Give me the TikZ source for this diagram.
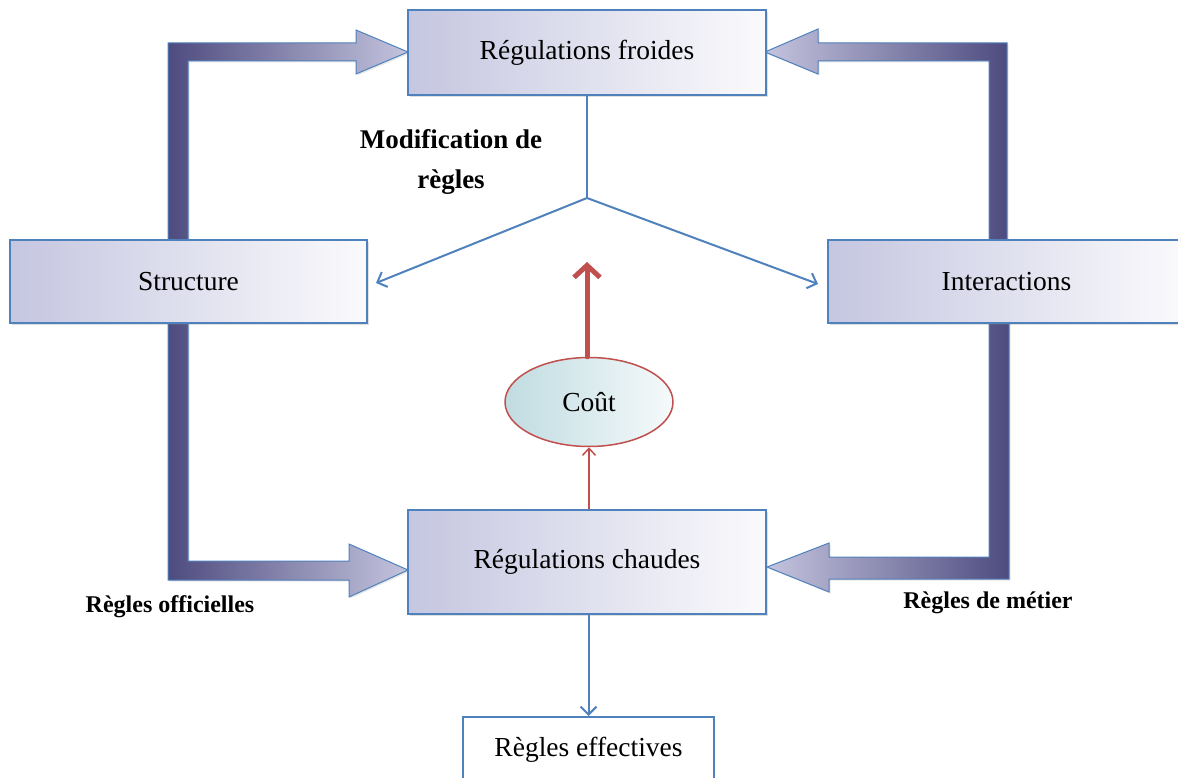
\documentclass[tikz,border=0pt]{standalone}
\usepackage{fontspec}
\setmainfont{Liberation Serif}
\usetikzlibrary{arrows.meta,shapes.geometric,shadows}
\definecolor{bblue}{RGB}{79,129,189}
\definecolor{darkarrow}{RGB}{78,75,127}
\definecolor{midarrow}{RGB}{120,117,165}
\definecolor{lightarrow}{RGB}{196,196,222}
\definecolor{lav}{RGB}{197,198,224}
\definecolor{redc}{RGB}{192,80,77}
\definecolor{cyn}{RGB}{192,220,225}
\tikzset{
  regbox/.style={draw=bblue, line width=1.5pt, left color=lav, right color=white!92!lav,
    drop shadow={opacity=0.25,shadow xshift=2pt,shadow yshift=-2pt},
    font=\fontsize{27.5}{32}\selectfont, inner sep=0pt},
  plainbox/.style={draw=bblue, line width=2pt, fill=white, font=\fontsize{27.5}{32}\selectfont, inner sep=0pt},
  blockL/.style={draw=bblue, line width=1pt, left color=darkarrow, middle color=midarrow, right color=lightarrow,
    drop shadow={opacity=0.2,shadow xshift=1.5pt,shadow yshift=-1.5pt}},
  blockR/.style={draw=bblue, line width=1pt, right color=darkarrow, middle color=midarrow, left color=lightarrow,
    drop shadow={opacity=0.2,shadow xshift=1.5pt,shadow yshift=-1.5pt}},
  thinblue/.style={draw=bblue, line width=2pt, -{Straight Barb[length=8pt,width=16pt]}},
  lbl/.style={font=\bfseries\fontsize{27}{40}\selectfont, align=center, inner sep=0pt},
  lblsmall/.style={font=\bfseries\fontsize{24}{28}\selectfont, inner sep=0pt},
}
\begin{document}
\begin{tikzpicture}[x=1pt,y=-1pt]
\useasboundingbox (0,0) rectangle (1178,778);
\clip (0,0) rectangle (1178,778);

% big block arrows
\path[blockL] (168,250) -- (168,43) -- (356,43) -- (356,30) -- (408,52) -- (356,74) -- (356,61) -- (188,61) -- (188,250) -- cycle;
\path[blockL] (168,315) -- (168,580) -- (349,580) -- (349,597) -- (408,570) -- (349,544) -- (349,561) -- (188,561) -- (188,315) -- cycle;
\path[blockR] (1007,250) -- (1007,43) -- (818,43) -- (818,29) -- (765,52) -- (818,74) -- (818,61) -- (989,61) -- (989,250) -- cycle;
\path[blockR] (1009,315) -- (1009,579) -- (829,579) -- (829,592) -- (767,567) -- (829,543) -- (829,557) -- (989,557) -- (989,315) -- cycle;

% boxes
\node[regbox, minimum width=358pt, minimum height=85pt] (froides) at (587,52.5) {Régulations froides};
\node[regbox, minimum width=357pt, minimum height=83pt] (structure) at (188.5,281.5) {Structure};
\node[regbox, minimum width=357pt, minimum height=83pt] (interactions) at (1006.5,281.5) {Interactions};
\node[regbox, minimum width=358pt, minimum height=104pt] (chaudes) at (587,562) {Régulations chaudes};
\node[plainbox, minimum width=251pt, minimum height=66pt] (effectives) at (588.5,750) {Règles effectives};

% cost ellipse
\node[ellipse, draw=redc, line width=1.5pt, left color=cyn, right color=white!85!cyn,
  minimum width=168pt, minimum height=89pt, inner sep=0pt,
  font=\fontsize{27.5}{32}\selectfont] (cout) at (589,402) {Coût};

% fork connectors
\coordinate (fork) at (587,198);
\coordinate (endL) at (376,283);
\coordinate (endR) at (818,284);
\draw[bblue, line width=2pt] (froides.south -| fork) -- (fork);
\draw[thinblue] (fork) -- (endL);
\draw[thinblue] (fork) -- (endR);

% red arrows
\coordinate (redtip) at (587,262);
\draw[redc, line width=5pt, line cap=round, -{Straight Barb[length=12pt,width=26pt]}] (cout.north -| redtip) -- (redtip);
\draw[redc, line width=1.5pt, -{Straight Barb[length=7pt,width=13pt]}] (chaudes.north -| cout) -- (cout.south);

% bottom arrow
\draw[thinblue] (chaudes.south -| effectives) -- (effectives.north);

% labels
\node[lbl] (modif) at (451,162) {Modification de\\règles};
\node[lblsmall] (officielles) at (170,607) {Règles officielles};
\node[lblsmall] (metier) at (988,603) {Règles de métier};
\end{tikzpicture}
\end{document}
